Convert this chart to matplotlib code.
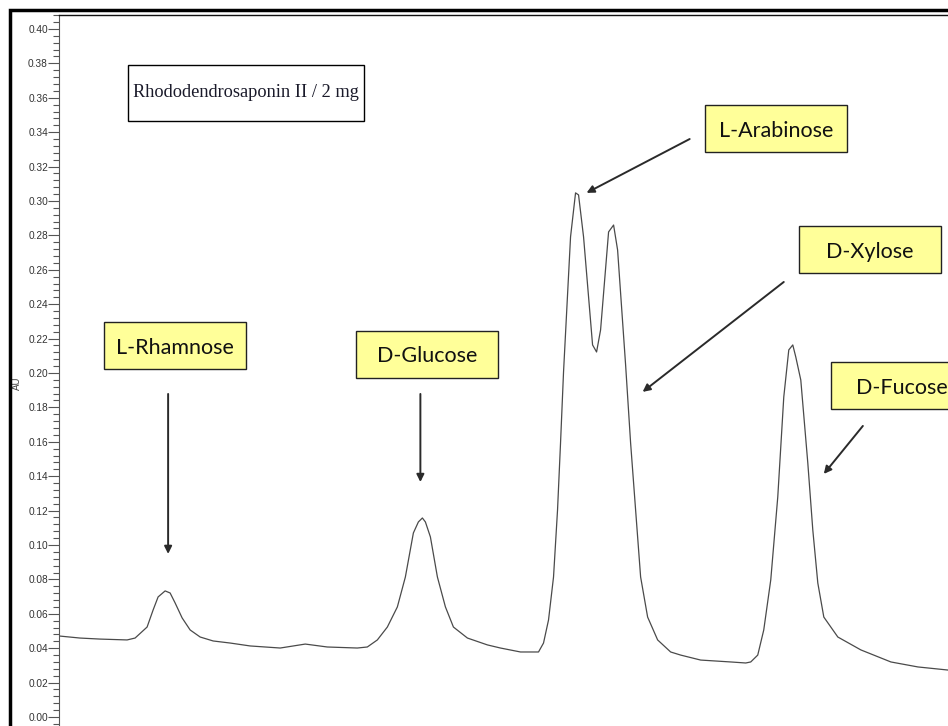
import matplotlib.pyplot as plt
from matplotlib.patches import Rectangle
from matplotlib.ticker import MultipleLocator, AutoMinorLocator

# chromatogram trace (scan index, absorbance in AU)
scan = [0, 21, 41, 68, 76, 88, 94, 99, 106, 111, 116, 123, 131, 141, 154,
        171, 191, 221, 246, 268, 298, 308, 318, 328, 338, 346, 354, 359, 363,
        366, 371, 378, 386, 394, 408, 428, 441, 461, 479, 484, 489, 494, 498,
        501, 504, 511, 516, 519, 524, 533, 537, 541, 549, 554, 558, 566, 571,
        576, 581, 588, 598, 611, 621, 641, 671, 686, 691, 698, 704, 711, 718,
        724, 729, 733, 736, 741, 748, 753, 758, 764, 778, 801, 831, 858, 888]
au = [0.0471, 0.0459, 0.0453, 0.0448, 0.0459, 0.0523, 0.0622, 0.0698, 0.0733,
      0.0721, 0.0663, 0.0576, 0.0506, 0.0465, 0.0442, 0.0430, 0.0413, 0.0401,
      0.0424, 0.0407, 0.0401, 0.0407, 0.0448, 0.0523, 0.0640, 0.0814, 0.1070,
      0.1134, 0.1157, 0.1134, 0.1047, 0.0814, 0.0640, 0.0523, 0.0459, 0.0419,
      0.0401, 0.0378, 0.0378, 0.0430, 0.0564, 0.0814, 0.1203, 0.1593, 0.2006,
      0.2791, 0.3047, 0.3035, 0.2791, 0.2163, 0.2122, 0.2250, 0.2820, 0.2860,
      0.2715, 0.2047, 0.1593, 0.1203, 0.0814, 0.0581, 0.0448, 0.0378, 0.0360,
      0.0331, 0.0320, 0.0314, 0.0320, 0.0360, 0.0506, 0.0797, 0.1279, 0.1860,
      0.2134, 0.2163, 0.2093, 0.1959, 0.1477, 0.1087, 0.0779, 0.0581, 0.0465,
      0.0390, 0.0320, 0.0291, 0.0273]

# peak labels: box centre, arrow tail, arrow head (scan, AU)
sugars = ['L-Rhamnose', 'D-Glucose', 'L-Arabinose', 'D-Xylose', 'D-Fucose']
label_pos = [(116, 0.2160), (368, 0.2108), (716, 0.3419), (810, 0.2718), (842, 0.1927)]
arrow_from = [(109, 0.1878), (361, 0.1878), (630, 0.3360), (724, 0.2529), (803, 0.1692)]
arrow_to = [(109, 0.0948), (361, 0.1366), (527, 0.3047), (583, 0.1890), (764, 0.1413)]

sample = 'Rhododendrosaponin II / 2 mg'
sample_pos = (187, 0.3628)

W, H = 948, 726
fig = plt.figure(figsize=(W / 100, H / 100), dpi=100)
ax = fig.add_axes([59 / W, 0, 1 - 59 / W + 0.001, 711 / H])

ax.plot(scan, au, color='#4a4a4a', lw=0.9)

ax.set_xlim(0, 889)
ax.set_ylim(-0.00523, 0.4081)
ax.yaxis.set_major_locator(MultipleLocator(0.02))
ax.yaxis.set_minor_locator(AutoMinorLocator(5))
ax.yaxis.set_major_formatter(plt.FuncFormatter(lambda v, p: '%.2f' % v))
ax.tick_params(axis='y', which='major', length=8, width=0.8, color='#555555',
               labelsize=7.3, labelcolor='#333333', pad=0)
ax.tick_params(axis='y', which='minor', length=4, width=0.8, color='#555555')
ax.set_xticks([])
for lab in ax.get_yticklabels():
    lab.set_fontfamily('Liberation Sans')

ax.spines['right'].set_visible(False)
ax.spines['bottom'].set_visible(False)
ax.spines['left'].set_color('#555555')
ax.spines['top'].set_color('#111111')
ax.spines['top'].set_linewidth(1.0)

ax.set_ylabel('AU', fontsize=7, color='#444444', family='Liberation Sans')
ax.yaxis.set_label_coords(-0.0416, 0.482)

# fixed size label boxes
bw, bh = 142, 0.0273
for name, (cx, cy), a0, a1 in zip(sugars, label_pos, arrow_from, arrow_to):
    ax.add_patch(Rectangle((cx - bw / 2, cy - bh / 2), bw, bh, facecolor='#ffff99',
                           edgecolor='#222222', lw=1.0, zorder=3, clip_on=False))
    ax.text(cx, cy - 0.0012, name, ha='center', va='center', fontsize=15.5,
            family='Lato', color='#111111', zorder=4, clip_on=False)
    ax.annotate('', xy=a1, xytext=a0,
                arrowprops=dict(arrowstyle='-|>', color='#2a2a2a', lw=1.4,
                                mutation_scale=11, shrinkA=0, shrinkB=0))

sw, sh = 236, 0.0326
ax.add_patch(Rectangle((sample_pos[0] - sw / 2, sample_pos[1] - sh / 2), sw, sh,
                       facecolor='white', edgecolor='black', lw=1.0, zorder=3))
ax.text(sample_pos[0], sample_pos[1], sample, ha='center', va='center',
        fontsize=13.2, family='Liberation Serif', color='#1a1a2a', zorder=4)

# outer page frame
fig.add_artist(Rectangle((10 / W, -0.1), 1.2, 1.1 - 9.5 / H, transform=fig.transFigure,
                         fill=False, edgecolor='black', lw=2.5))

fig.savefig('out.png', dpi=100)
